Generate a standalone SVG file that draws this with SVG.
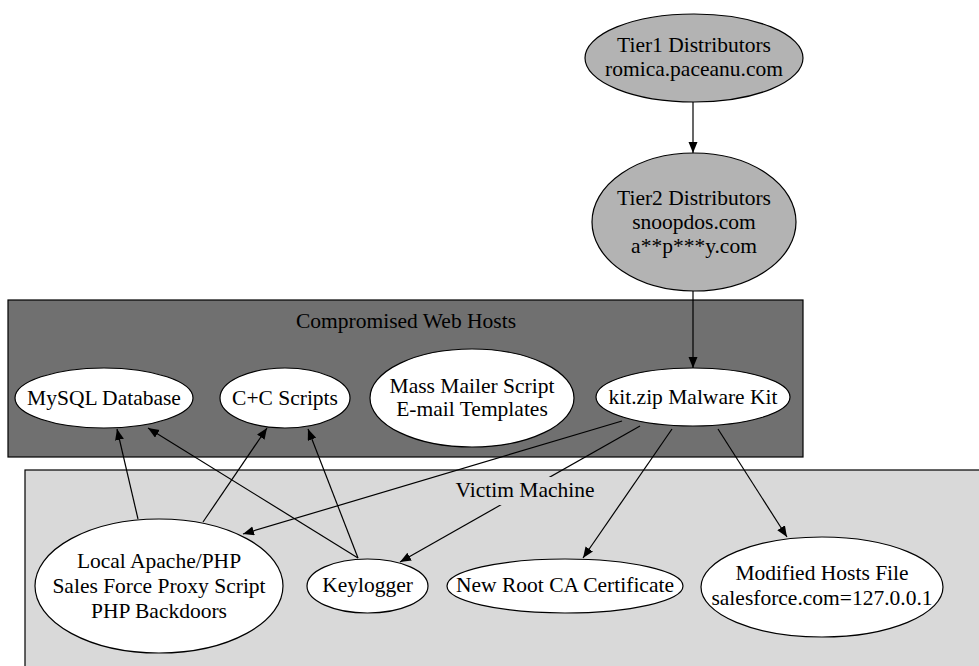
<svg xmlns="http://www.w3.org/2000/svg" width="979" height="666" viewBox="0 0 979 666">
  <style>
    text { font-family: "Liberation Serif", "DejaVu Serif", serif; font-size: 21.5px; fill: #000; text-anchor: middle; }
    .node { fill: #fff; stroke: #000; stroke-width: 1.2; }
    .tier { fill: #b3b3b3; stroke: #000; stroke-width: 1.2; }
    .edge { fill: none; stroke: #000; stroke-width: 1.2; marker-end: url(#arrow); }
  </style>
  <defs>
    <marker id="arrow" markerUnits="userSpaceOnUse" markerWidth="12" markerHeight="10" refX="11" refY="4.5" orient="auto">
      <path d="M0,0 L11,4.5 L0,9 Z" fill="#000"/>
    </marker>
  </defs>

  <rect width="979" height="666" fill="#fff"/>

  <!-- clusters -->
  <g id="cluster-web-hosts">
    <rect x="8" y="300" width="795" height="157" fill="#707070" stroke="#000" stroke-width="1.2"/>
    <text x="406" y="328">Compromised Web Hosts</text>
  </g>
  <g id="cluster-victim">
    <rect x="25" y="470" width="1000" height="300" fill="#d9d9d9" stroke="#000" stroke-width="1.2"/>
  </g>

  <!-- connectors -->
  <g id="edges">
    <path class="edge" d="M693,102 L693,153"/>
    <path class="edge" d="M693,291 L693,368"/>
    <path class="edge" d="M622,421 L243,534"/>
    <path class="edge" d="M640,426 L400,562"/>
    <path class="edge" d="M672,429 L583,558"/>
    <path class="edge" d="M718,429 L787,537"/>
    <path class="edge" d="M138,519 L117,429"/>
    <path class="edge" d="M203,522 L267,428"/>
    <path class="edge" d="M358,558 L148,428"/>
    <path class="edge" d="M358,558 L308,429"/>
  </g>

  <g id="victim-label">
    <rect x="455" y="477" width="140" height="28" fill="#d9d9d9"/>
    <text x="525" y="497">Victim Machine</text>
  </g>

  <!-- nodes -->
  <g id="tier1">
    <ellipse class="tier" cx="694" cy="58" rx="109" ry="44"/>
    <text x="694" y="52">Tier1 Distributors</text>
    <text x="694" y="76">romica.paceanu.com</text>
  </g>
  <g id="tier2">
    <ellipse class="tier" cx="694" cy="222" rx="102" ry="69"/>
    <text x="694" y="205">Tier2 Distributors</text>
    <text x="694" y="229">snoopdos.com</text>
    <text x="694" y="253">a**p***y.com</text>
  </g>
  <g id="mysql">
    <ellipse class="node" cx="104" cy="398" rx="89" ry="30"/>
    <text x="104" y="405">MySQL Database</text>
  </g>
  <g id="cc-scripts">
    <ellipse class="node" cx="285" cy="398" rx="65" ry="30"/>
    <text x="285" y="405">C+C Scripts</text>
  </g>
  <g id="mass-mailer">
    <ellipse class="node" cx="472" cy="398" rx="102" ry="49"/>
    <text x="472" y="393">Mass Mailer Script</text>
    <text x="472" y="416">E-mail Templates</text>
  </g>
  <g id="kit-zip">
    <ellipse class="node" cx="693" cy="397" rx="97" ry="29"/>
    <text x="693" y="404">kit.zip Malware Kit</text>
  </g>
  <g id="local-apache">
    <ellipse class="node" cx="159" cy="586" rx="124" ry="67"/>
    <text x="159" y="568">Local Apache/PHP</text>
    <text x="159" y="593">Sales Force Proxy Script</text>
    <text x="159" y="618">PHP Backdoors</text>
  </g>
  <g id="keylogger">
    <ellipse class="node" cx="367.5" cy="586" rx="60.5" ry="27"/>
    <text x="367.5" y="592">Keylogger</text>
  </g>
  <g id="root-ca">
    <ellipse class="node" cx="565" cy="586" rx="118" ry="27"/>
    <text x="565" y="592">New Root CA Certificate</text>
  </g>
  <g id="hosts-file">
    <ellipse class="node" cx="822" cy="587" rx="121" ry="50"/>
    <text x="822" y="580">Modified Hosts File</text>
    <text x="822" y="605">salesforce.com=127.0.0.1</text>
  </g>
</svg>
